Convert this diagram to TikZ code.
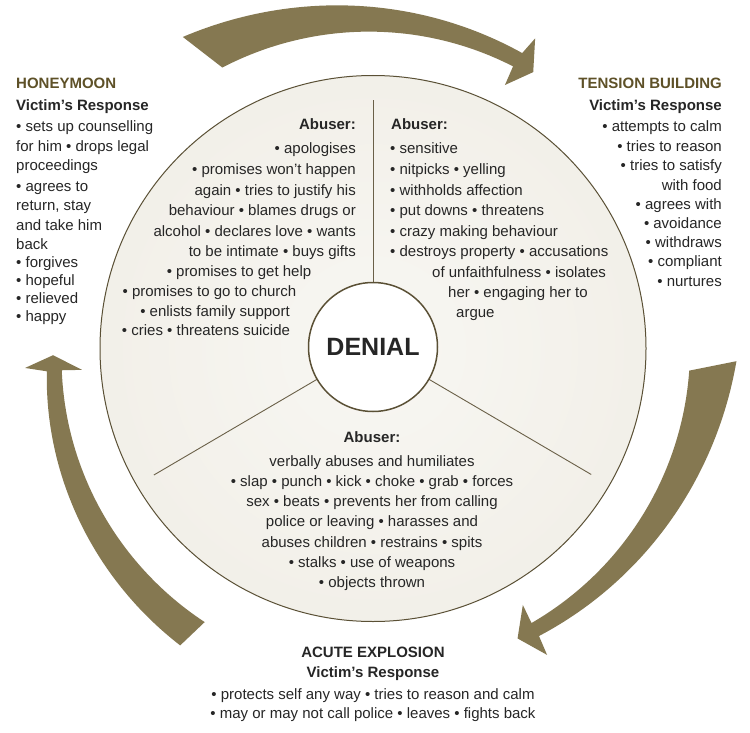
\documentclass[tikz,border=0pt]{standalone}
\usepackage{fontspec}
\setmainfont{Liberation Sans}
\usetikzlibrary{calc}
\definecolor{txtcol}{HTML}{262626}
\definecolor{phasecol}{HTML}{5E5128}
\definecolor{arrowcol}{HTML}{857851}
\definecolor{circol}{HTML}{5A5035}
\definecolor{linecol}{HTML}{6A6048}
\definecolor{cin}{HTML}{F8F7F3}
\definecolor{cout}{HTML}{E6E1D4}
\pgfdeclareradialshading{discshade}{\pgfpoint{0bp}{0bp}}{color(0bp)=(cin); color(30bp)=(cin!60!cout); color(50bp)=(cout); color(60bp)=(cout)}
\tikzset{
  body/.style={font=\fontsize{15}{18}\selectfont, text=txtcol, inner sep=0pt},
  bodyb/.style={body, font=\fontsize{15}{18}\selectfont\bfseries},
  phase/.style={bodyb, text=phasecol},
  arrowband/.style={fill=arrowcol},
  divline/.style={draw=linecol, line width=0.9pt},
}
\begin{document}
\begin{tikzpicture}[x=1pt,y=-1pt]
\useasboundingbox (0,0) rectangle (750,733);
\fill[white] (0,0) rectangle (750,733);
\coordinate (C) at (373,348.5);
% main disc
\node[circle, minimum size=546pt, inner sep=0pt, shading=discshade, draw=circol, line width=1pt] (disc) at (C) {};
% dividers
\coordinate (e1) at ($(C)+(90:248pt)$);
\coordinate (e2) at ($(C)+(210:253pt)$);
\coordinate (e3) at ($(C)+(330:252pt)$);
\node[circle, minimum size=129pt, inner sep=0pt] (den) at (373,347) {};
\draw[divline] (den.90) -- (e1);
\draw[divline] (den.210) -- (e2);
\draw[divline] (den.330) -- (e3);
\node[circle, minimum size=129pt, inner sep=0pt, fill=white, draw=circol, line width=1.5pt,
      font=\fontsize{25}{28}\selectfont\bfseries, text=txtcol] (denial) at (373,347) {DENIAL};

% arrows
\begin{scope}[shift={(C)}]
% top arrow
\fill[arrowband] plot[domain=121.4:63.2, samples=60, variable=\t]
   ({(331+0.2275*(\t-63.2)+0.00613*(\t-63.2)^2)*cos(\t)}, {-(331+0.2275*(\t-63.2)+0.00613*(\t-63.2)^2)*sin(\t)})
  -- (62.4:350pt) -- (59.9:319.5pt) -- (63.4:294.7pt)
  -- plot[domain=63.6:118.2, samples=60, variable=\t] ({(315+0.07*(\t-63.6))*cos(\t)}, {-(315+0.07*(\t-63.6))*sin(\t)}) -- cycle;
% right arrow
\fill[arrowband] plot[domain=-2:-60, samples=60, variable=\t]
   ({(332+0.2275*(\t+60)+0.0055*(\t+60)^2)*cos(\t)}, {-(332+0.2275*(\t+60)+0.0055*(\t+60)^2)*sin(\t)})
  -- (-60.4:352.4pt) -- (-63.5:324pt) -- (-59.7:297pt)
  -- plot[domain=-60:-4, samples=60, variable=\t] ({317*cos(\t)}, {-317*sin(\t)}) -- cycle;
% left arrow
\fill[arrowband] plot[domain=237:184, samples=60, variable=\t]
   ({(327+0.51*(\t-184))*cos(\t)}, {-(327+0.51*(\t-184))*sin(\t)})
  -- (183.2:348.5pt) -- (181.2:320pt) -- (184.2:291.8pt)
  -- plot[domain=184:238.4, samples=60, variable=\t] ({(312+0.17*(\t-184))*cos(\t)}, {-(312+0.17*(\t-184))*sin(\t)}) -- cycle;
\end{scope}

% left abuser block
\node[bodyb, anchor=base east] (la0) at (356,130) {Abuser:};
\node[body, anchor=base east] (la1) at (356,154) {• apologises};
\node[body, anchor=base east] (la2) at (356,175) {• promises won’t happen};
\node[body, anchor=base east] (la3) at (356,195) {again • tries to justify his};
\node[body, anchor=base east] (la4) at (356,215) {behaviour • blames drugs or};
\node[body, anchor=base east] (la5) at (356,236) {alcohol • declares love • wants};
\node[body, anchor=base east] (la6) at (356,256) {to be intimate • buys gifts};
\node[body, anchor=base] (la7) at (239,276) {• promises to get help};
\node[body, anchor=base] (la8) at (209.5,296) {• promises to go to church};
\node[body, anchor=base] (la9) at (215,316) {• enlists family support};
\node[body, anchor=base] (la10) at (206,335) {• cries • threatens suicide};

% right abuser block
\node[bodyb, anchor=base west] (ra0) at (391,130) {Abuser:};
\node[body, anchor=base west] (ra1) at (390,154) {• sensitive};
\node[body, anchor=base west] (ra2) at (390,175) {• nitpicks • yelling};
\node[body, anchor=base west] (ra3) at (390,195) {• withholds affection};
\node[body, anchor=base west] (ra4) at (390,215) {• put downs • threatens};
\node[body, anchor=base west] (ra5) at (390,236) {• crazy making behaviour};
\node[body, anchor=base west] (ra6) at (390,256) {• destroys property • accusations};
\node[body, anchor=base west] (ra7) at (432,277) {of unfaithfulness • isolates};
\node[body, anchor=base west] (ra8) at (448,297) {her • engaging her to};
\node[body, anchor=base west] (ra9) at (456,317) {argue};

% bottom abuser block
\node[bodyb, anchor=base] (ba0) at (372,442) {Abuser:};
\node[body, anchor=base] (ba1) at (372,466) {verbally abuses and humiliates};
\node[body, anchor=base] (ba2) at (372,486) {• slap • punch • kick • choke • grab • forces};
\node[body, anchor=base] (ba3) at (372,506) {sex • beats • prevents her from calling};
\node[body, anchor=base] (ba4) at (372,526) {police or leaving • harasses and};
\node[body, anchor=base] (ba5) at (372,547) {abuses children • restrains • spits};
\node[body, anchor=base] (ba6) at (372,567) {• stalks • use of weapons};
\node[body, anchor=base] (ba7) at (372,587) {• objects thrown};

% acute explosion
\node[bodyb, anchor=base, text=black!85] (ae0) at (373,657) {ACUTE EXPLOSION};
\node[bodyb, anchor=base] (ae1) at (373,677) {Victim’s Response};
\node[body, anchor=base] (ae2) at (373,699) {• protects self any way • tries to reason and calm};
\node[body, anchor=base] (ae3) at (373,718) {• may or may not call police • leaves • fights back};

% honeymoon
\node[phase, anchor=base west] (hm0) at (16,89) {HONEYMOON};
\node[bodyb, anchor=base west] (hm1) at (16,111) {Victim’s Response};
\node[body, anchor=base west] (hm2) at (16,132) {• sets up counselling};
\node[body, anchor=base west] (hm3) at (16,152) {for him • drops legal};
\node[body, anchor=base west] (hm4) at (16,171) {proceedings};
\node[body, anchor=base west] (hm5) at (16,191) {• agrees to};
\node[body, anchor=base west] (hm6) at (16,210) {return, stay};
\node[body, anchor=base west] (hm7) at (16,230) {and take him};
\node[body, anchor=base west] (hm8) at (16,249) {back};
\node[body, anchor=base west] (hm9) at (16,267) {• forgives};
\node[body, anchor=base west] (hm10) at (16,285) {• hopeful};
\node[body, anchor=base west] (hm11) at (16,303) {• relieved};
\node[body, anchor=base west] (hm12) at (16,321) {• happy};

% tension building
\node[phase, anchor=base east] (tb0) at (722,89) {TENSION BUILDING};
\node[bodyb, anchor=base east] (tb1) at (722,111) {Victim’s Response};
\node[body, anchor=base east] (tb2) at (722,132) {• attempts to calm};
\node[body, anchor=base east] (tb3) at (722,152) {• tries to reason};
\node[body, anchor=base east] (tb4) at (722,171) {• tries to satisfy};
\node[body, anchor=base east] (tb5) at (722,190) {with food};
\node[body, anchor=base east] (tb6) at (722,209) {• agrees with};
\node[body, anchor=base east] (tb7) at (722,228) {• avoidance};
\node[body, anchor=base east] (tb8) at (722,247) {• withdraws};
\node[body, anchor=base east] (tb9) at (722,266) {• compliant};
\node[body, anchor=base east] (tb10) at (722,286) {• nurtures};
\end{tikzpicture}
\end{document}
